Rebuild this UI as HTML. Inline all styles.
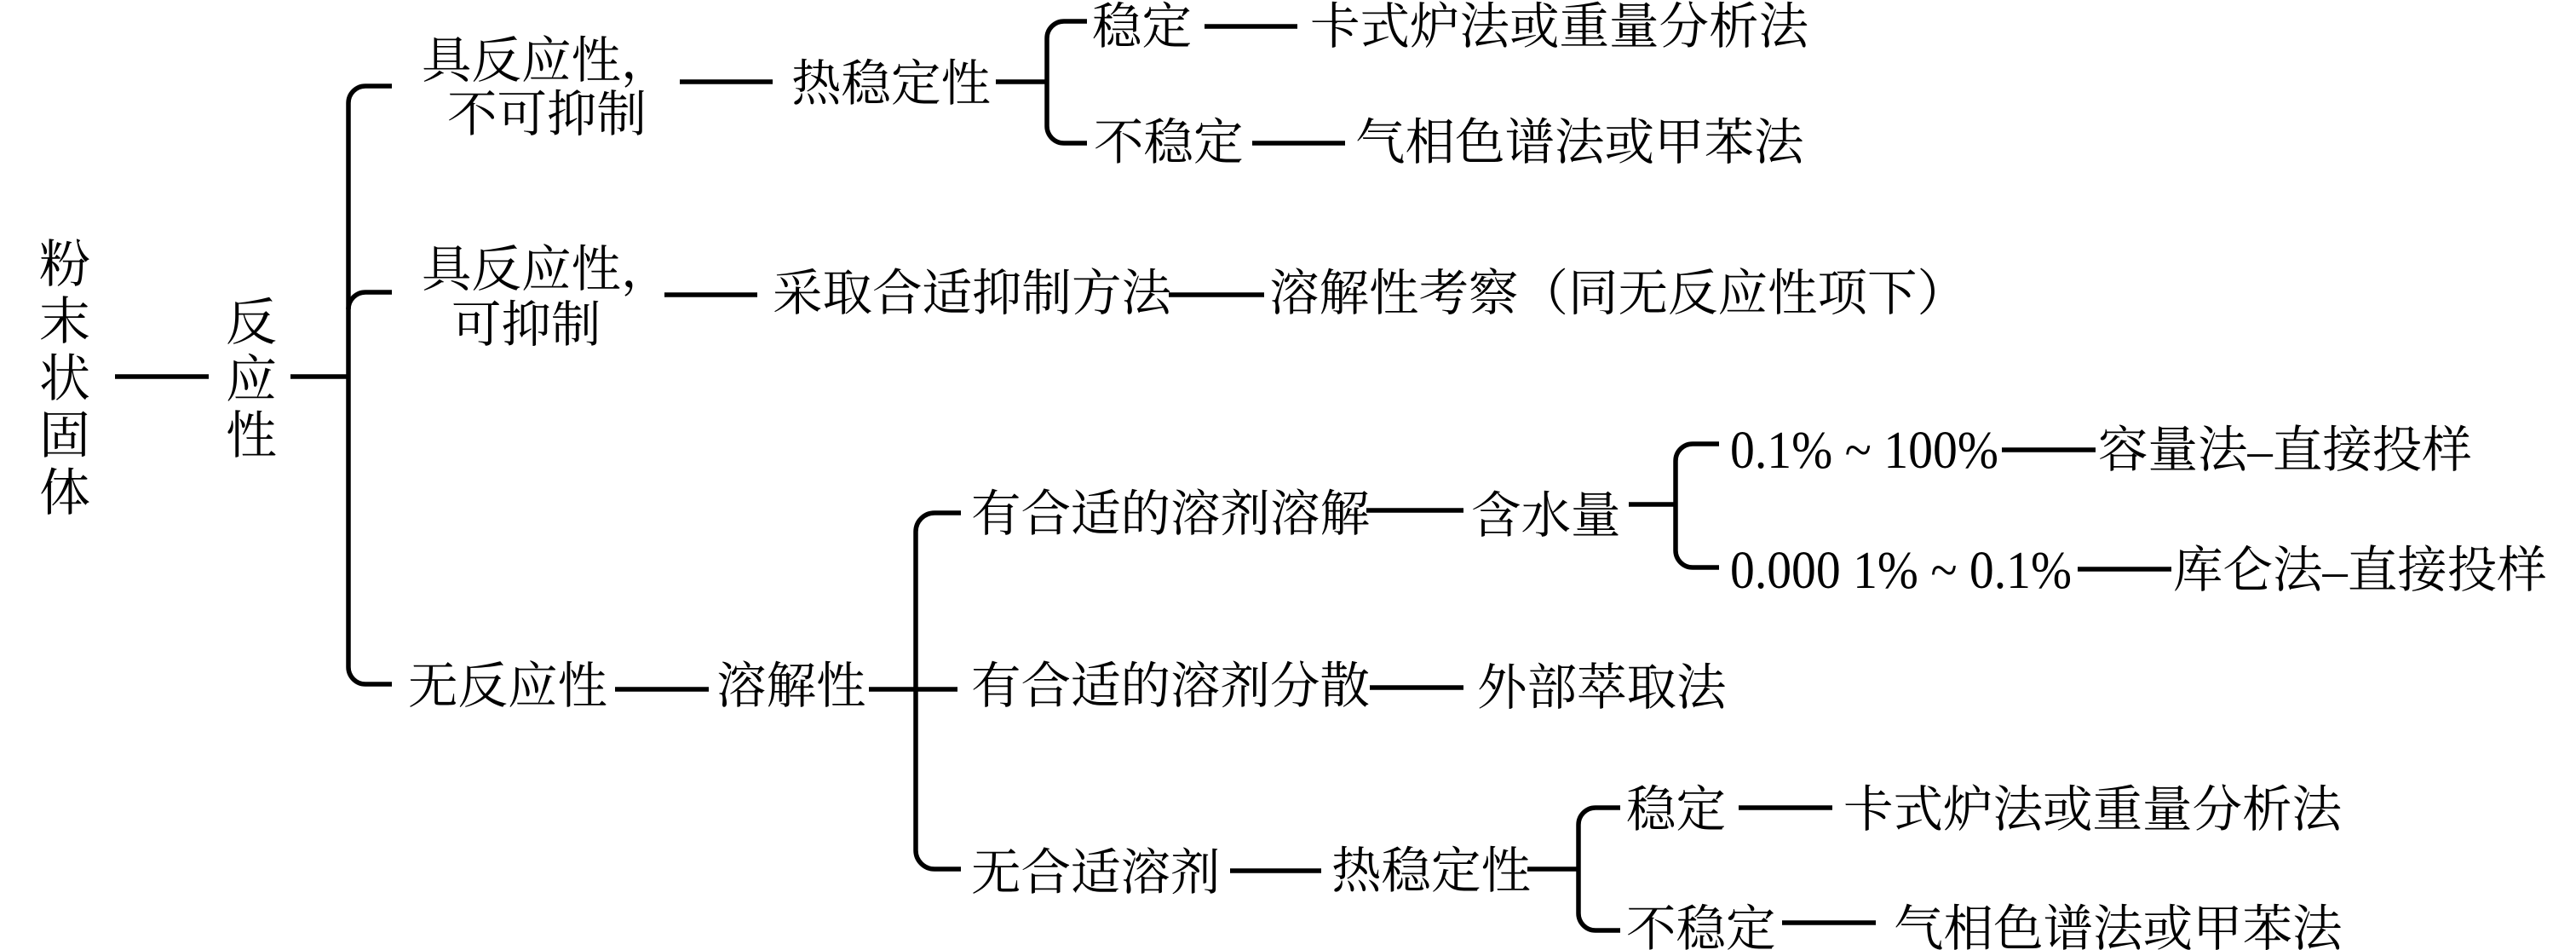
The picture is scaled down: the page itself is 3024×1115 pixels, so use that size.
<!DOCTYPE html>
<html>
<head>
<meta charset="utf-8">
<style>
html,body{margin:0;padding:0;background:#fff;}
svg{display:block;}
text{font-family:"Liberation Serif","Noto Serif CJK SC",serif;fill:#000;}
.c{font-size:58.5px;}
.v{font-size:60px;}
.l{font-size:62px;}
</style>
</head>
<body>
<svg width="3024" height="1115" viewBox="0 0 3024 1115" xmlns="http://www.w3.org/2000/svg">
<rect width="3024" height="1115" fill="#fff"/>
<g stroke="#000" stroke-width="5.5" fill="none" stroke-linecap="butt">
  <!-- root connectors -->
  <line x1="135" y1="442" x2="245" y2="442"/>
  <line x1="341" y1="442" x2="409" y2="442"/>
  <!-- bracket 1 -->
  <path d="M460,101 H429 A20,20 0 0 0 409,121 V783 A20,20 0 0 0 429,803 H460"/>
  <path d="M409,363 A20,20 0 0 1 429,343 H460"/>
  <!-- top branch -->
  <line x1="798" y1="96" x2="907" y2="96"/>
  <line x1="1169" y1="96" x2="1229" y2="96"/>
  <path d="M1276,25 H1249 A20,20 0 0 0 1229,45 V148 A20,20 0 0 0 1249,168 H1276"/>
  <line x1="1414" y1="31" x2="1523" y2="31"/>
  <line x1="1470" y1="168" x2="1579" y2="168"/>
  <!-- middle branch -->
  <line x1="780" y1="346" x2="889" y2="346"/>
  <line x1="1372" y1="346" x2="1484" y2="346"/>
  <!-- bottom branch -->
  <line x1="722" y1="809" x2="832" y2="809"/>
  <line x1="1020" y1="809" x2="1124" y2="809"/>
  <path d="M1128,602 H1097 A22,22 0 0 0 1075,624 V998 A22,22 0 0 0 1097,1020 H1128"/>
  <line x1="1604" y1="599" x2="1718" y2="599"/>
  <line x1="1912" y1="592" x2="1967" y2="592"/>
  <path d="M2018,521 H1987 A20,20 0 0 0 1967,541 V646 A20,20 0 0 0 1987,666 H2018"/>
  <line x1="2350" y1="528" x2="2460" y2="528"/>
  <line x1="2439" y1="668" x2="2549" y2="668"/>
  <line x1="1608" y1="807" x2="1718" y2="807"/>
  <line x1="1444" y1="1022" x2="1551" y2="1022"/>
  <line x1="1793" y1="1020" x2="1853" y2="1020"/>
  <path d="M1902,948 H1873 A20,20 0 0 0 1853,968 V1072 A20,20 0 0 0 1873,1092 H1902"/>
  <line x1="2041" y1="948" x2="2151" y2="948"/>
  <line x1="2092" y1="1083" x2="2202" y2="1083"/>
</g>

<!-- vertical labels -->
<g class="v" text-anchor="middle">
  <text x="76" y="331">粉</text>
  <text x="76" y="398">末</text>
  <text x="76" y="465">状</text>
  <text x="76" y="532">固</text>
  <text x="76" y="599">体</text>
  <text x="295" y="399">反</text>
  <text x="295" y="466">应</text>
  <text x="295" y="532">性</text>
</g>

<g class="c">
  <text x="495" y="91">具反应性，</text>
  <text x="525" y="154">不可抑制</text>
  <text x="495" y="336">具反应性，</text>
  <text x="530" y="401">可抑制</text>

  <text x="929" y="118">热稳定性</text>
  <text x="1282" y="51">稳定</text>
  <text x="1538" y="51">卡式炉法或重量分析法</text>
  <text x="1284" y="187">不稳定</text>
  <text x="1591" y="187">气相色谱法或甲苯法</text>

  <text x="907" y="364">采取合适抑制方法</text>
  <text x="1490" y="364">溶解性考察（同无反应性项下）</text>

  <text x="479" y="825">无反应性</text>
  <text x="841" y="825">溶解性</text>

  <text x="1140" y="623">有合适的溶剂溶解</text>
  <text x="1727" y="625">含水量</text>
  <text x="2463" y="548">容量法–直接投样</text>
  <text x="2551" y="689">库仑法–直接投样</text>

  <text x="1140" y="825">有合适的溶剂分散</text>
  <text x="1734" y="827">外部萃取法</text>

  <text x="1140" y="1044">无合适溶剂</text>
  <text x="1563" y="1042">热稳定性</text>
  <text x="1909" y="970">稳定</text>
  <text x="2164" y="970">卡式炉法或重量分析法</text>
  <text x="1909" y="1110">不稳定</text>
  <text x="2223" y="1110">气相色谱法或甲苯法</text>
</g>

<g class="l">
  <text x="2031" y="549" textLength="315" lengthAdjust="spacingAndGlyphs">0.1% ~ 100%</text>
  <text x="2031" y="690" textLength="401" lengthAdjust="spacingAndGlyphs">0.000 1% ~ 0.1%</text>
</g>
</svg>
</body>
</html>
